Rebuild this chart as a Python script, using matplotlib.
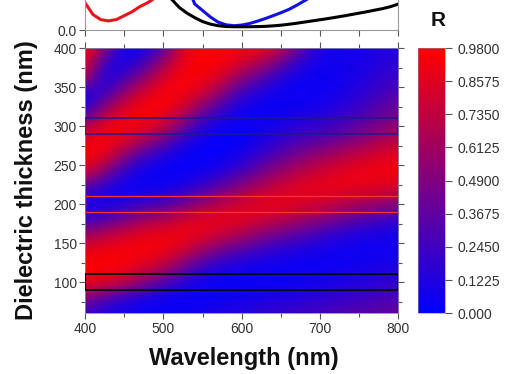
import numpy as np
import matplotlib
matplotlib.use("Agg")
import matplotlib.pyplot as plt
from matplotlib.colors import LinearSegmentedColormap
from matplotlib.patches import Rectangle
from matplotlib.ticker import MultipleLocator

plt.rcParams['font.family'] = ['Liberation Sans', 'DejaVu Sans']

# ---------------- data ----------------
# map grid: wavelength columns (nm) and thickness rows (nm)
wavelength_grid = [400, 425, 450, 475, 500, 525, 550, 575, 600,
                   625, 650, 675, 700, 725, 750, 775, 800]
thickness_grid = [60, 80, 100, 120, 140, 160, 180, 200, 220,
                  240, 260, 280, 300, 320, 340, 360, 380, 400]

# reflectance per wavelength column, listed from thickness 60 up to 400 nm
R_400 = [0.22, 0.50, 0.93, 0.97, 0.90, 0.60, 0.20, 0.10, 0.30, 0.80, 0.97, 0.90, 0.65, 0.15, 0.05, 0.70, 0.93, 0.97]
R_425 = [0.12, 0.32, 0.88, 0.97, 0.93, 0.72, 0.30, 0.07, 0.12, 0.50, 0.88, 0.97, 0.90, 0.60, 0.22, 0.04, 0.20, 0.55]
R_450 = [0.06, 0.17, 0.76, 0.94, 0.96, 0.82, 0.45, 0.12, 0.04, 0.15, 0.50, 0.85, 0.96, 0.88, 0.60, 0.28, 0.06, 0.05]
R_475 = [0.04, 0.09, 0.52, 0.85, 0.96, 0.90, 0.62, 0.22, 0.05, 0.04, 0.22, 0.62, 0.92, 0.97, 0.85, 0.55, 0.25, 0.07]
R_500 = [0.04, 0.05, 0.33, 0.72, 0.93, 0.93, 0.65, 0.28, 0.06, 0.02, 0.10, 0.40, 0.80, 0.95, 0.97, 0.85, 0.60, 0.30]
R_525 = [0.04, 0.03, 0.15, 0.45, 0.80, 0.94, 0.82, 0.42, 0.12, 0.02, 0.03, 0.15, 0.45, 0.78, 0.94, 0.97, 0.93, 0.85]
R_550 = [0.08, 0.03, 0.06, 0.22, 0.58, 0.88, 0.88, 0.58, 0.25, 0.06, 0.01, 0.04, 0.15, 0.45, 0.78, 0.94, 0.97, 0.96]
R_575 = [0.12, 0.04, 0.03, 0.12, 0.40, 0.75, 0.90, 0.72, 0.40, 0.14, 0.03, 0.01, 0.05, 0.20, 0.50, 0.80, 0.95, 0.97]
R_600 = [0.15, 0.06, 0.025, 0.08, 0.30, 0.65, 0.88, 0.82, 0.55, 0.28, 0.10, 0.03, 0.03, 0.06, 0.20, 0.50, 0.82, 0.96]
R_625 = [0.20, 0.08, 0.03, 0.05, 0.20, 0.50, 0.80, 0.90, 0.70, 0.45, 0.22, 0.09, 0.06, 0.03, 0.10, 0.32, 0.65, 0.92]
R_650 = [0.22, 0.10, 0.04, 0.04, 0.14, 0.40, 0.72, 0.90, 0.80, 0.60, 0.38, 0.20, 0.10, 0.04, 0.03, 0.12, 0.40, 0.75]
R_675 = [0.25, 0.13, 0.055, 0.03, 0.10, 0.30, 0.62, 0.85, 0.88, 0.72, 0.50, 0.30, 0.16, 0.07, 0.03, 0.05, 0.15, 0.38]
R_700 = [0.28, 0.16, 0.08, 0.04, 0.07, 0.22, 0.52, 0.80, 0.90, 0.80, 0.60, 0.36, 0.20, 0.10, 0.05, 0.04, 0.06, 0.11]
R_725 = [0.31, 0.19, 0.10, 0.05, 0.05, 0.15, 0.42, 0.72, 0.90, 0.87, 0.70, 0.44, 0.27, 0.15, 0.09, 0.06, 0.06, 0.08]
R_750 = [0.34, 0.22, 0.13, 0.07, 0.04, 0.10, 0.33, 0.65, 0.88, 0.92, 0.78, 0.54, 0.36, 0.24, 0.16, 0.11, 0.09, 0.08]
R_775 = [0.37, 0.25, 0.16, 0.09, 0.05, 0.08, 0.25, 0.58, 0.85, 0.93, 0.85, 0.66, 0.47, 0.34, 0.25, 0.18, 0.13, 0.11]
R_800 = [0.40, 0.29, 0.20, 0.11, 0.06, 0.08, 0.20, 0.50, 0.82, 0.94, 0.90, 0.74, 0.56, 0.42, 0.32, 0.24, 0.18, 0.15]

# spectra for the three highlighted thicknesses (top panel)
line_wavelength = list(range(400, 801, 10))
R_100nm = [0.93, 0.94, 0.93, 0.90, 0.85, 0.78, 0.70, 0.60, 0.50, 0.40,
           0.32, 0.24, 0.175, 0.13, 0.095, 0.065, 0.045, 0.033, 0.027, 0.025,
           0.025, 0.025, 0.026, 0.028, 0.032, 0.037, 0.044, 0.052, 0.061, 0.070,
           0.079, 0.088, 0.098, 0.108, 0.119, 0.130, 0.141, 0.153, 0.165, 0.180, 0.200]
R_200nm = [0.21, 0.12, 0.08, 0.07, 0.08, 0.11, 0.14, 0.18, 0.21, 0.25,
           0.29, 0.33, 0.37, 0.41, 0.45, 0.49, 0.53, 0.57, 0.60, 0.63,
           0.65, 0.67, 0.69, 0.70, 0.71, 0.72, 0.72, 0.72, 0.72, 0.71,
           0.70, 0.69, 0.68, 0.66, 0.65, 0.63, 0.61, 0.59, 0.57, 0.55, 0.53]
R_300nm = [0.70, 0.80, 0.88, 0.93, 0.95, 0.96, 0.96, 0.95, 0.92, 0.87,
           0.80, 0.70, 0.55, 0.35, 0.20, 0.15, 0.10, 0.06, 0.04, 0.033,
           0.038, 0.05, 0.068, 0.088, 0.11, 0.133, 0.158, 0.19, 0.225, 0.26,
           0.30, 0.33, 0.36, 0.39, 0.42, 0.45, 0.48, 0.50, 0.52, 0.54, 0.56]

cbar_ticks = [0.0, 0.1225, 0.2450, 0.3675, 0.4900, 0.6125, 0.7350, 0.8575, 0.9800]
cbar_labels = ['0.000', '0.1225', '0.2450', '0.3675', '0.4900', '0.6125', '0.7350', '0.8575', '0.9800']

# ---------------- figure ----------------
W_px, H_px = 516, 374
fig = plt.figure(figsize=(W_px / 100, H_px / 100), dpi=100)

def fx(px):
    return px / W_px

def fy(py):
    return 1 - py / H_px

map_left, map_right = 85, 398.5
map_top, map_bottom = 48, 313.3
tick_col = '#555555'
lab_col = '#333333'

cmap = LinearSegmentedColormap.from_list('br', [(0, 0, 1), (1, 0, 0)])

# ---- map ----
ax = fig.add_axes([fx(map_left), fy(map_bottom), fx(map_right - map_left),
                   (map_bottom - map_top) / H_px])
Z = np.column_stack([R_400, R_425, R_450, R_475, R_500, R_525, R_550, R_575, R_600,
                     R_625, R_650, R_675, R_700, R_725, R_750, R_775, R_800])
dx = (wavelength_grid[1] - wavelength_grid[0]) / 2
dy = (thickness_grid[1] - thickness_grid[0]) / 2
im = ax.imshow(Z, origin='lower', aspect='auto', cmap=cmap, vmin=0, vmax=0.98,
               interpolation='bicubic',
               extent=[wavelength_grid[0] - dx, wavelength_grid[-1] + dx,
                       thickness_grid[0] - dy, thickness_grid[-1] + dy])
ax.set_xlim(400, 800)
ax.set_ylim(60, 400)

# highlighted thickness boxes
for t0, col, lw in [(100, 'black', 1.3), (200, '#ff3030', 0.9), (300, '#1a1a90', 1.1)]:
    ax.add_patch(Rectangle((400, t0 - 10), 400, 20, fill=False, edgecolor=col,
                           linewidth=lw, zorder=3))

ax.xaxis.set_major_locator(MultipleLocator(100))
ax.xaxis.set_minor_locator(MultipleLocator(50))
ax.yaxis.set_major_locator(MultipleLocator(50))
ax.yaxis.set_minor_locator(MultipleLocator(25))
ax.tick_params(axis='both', which='both', direction='out', color=tick_col,
               labelcolor=lab_col, labelsize=10, width=0.8, top=True, right=True)
ax.tick_params(axis='both', which='major', length=4, pad=2)
ax.tick_params(axis='both', which='minor', length=3)
ax.set_yticks([100, 150, 200, 250, 300, 350, 400])
for s in ax.spines.values():
    s.set_color('#8888aa')
    s.set_linewidth(0.6)

fig.text(fx(27), fy(180), 'Dielectric thickness (nm)', rotation=90,
         ha='center', va='center', fontsize=17, fontweight='bold', color='#111111')
fig.text(fx(244), fy(365), 'Wavelength (nm)', ha='center', va='baseline',
         fontsize=17, fontweight='bold', color='#111111')

# ---- top spectra panel (extends above the figure edge) ----
top_px_per_unit = 130
ax_top = fig.add_axes([fx(map_left), fy(30), fx(map_right - map_left),
                       top_px_per_unit / H_px])
ax_top.plot(line_wavelength, R_200nm, color='#e8141c', lw=2.2)
ax_top.plot(line_wavelength, R_300nm, color='#1010e0', lw=2.2)
ax_top.plot(line_wavelength, R_100nm, color='black', lw=2.2)
ax_top.set_xlim(400, 800)
ax_top.set_ylim(0, 1)
ax_top.set_yticks([0.0])
ax_top.set_yticklabels(['0.0'])
ax_top.xaxis.set_major_locator(MultipleLocator(50))
ax_top.tick_params(axis='x', labelbottom=False, direction='out', length=4,
                   color=tick_col, width=0.8)
ax_top.tick_params(axis='y', direction='out', length=4, color=tick_col,
                   labelcolor=lab_col, labelsize=10, width=0.8, pad=2)
ax_top.spines['top'].set_visible(False)
for k in ['left', 'right', 'bottom']:
    ax_top.spines[k].set_color('#999999')
    ax_top.spines[k].set_linewidth(0.8)

# ---- colorbar ----
cax = fig.add_axes([fx(418), fy(map_bottom), fx(27), (map_bottom - map_top) / H_px])
cb = fig.colorbar(im, cax=cax)
cb.set_ticks(cbar_ticks)
cb.set_ticklabels(cbar_labels)
cb.outline.set_linewidth(0.4)
cb.outline.set_edgecolor('#8888aa')
cax.tick_params(direction='out', length=5, color=tick_col, labelcolor=lab_col,
                labelsize=10, width=0.8, pad=4)
fig.text(fx(438), fy(20), 'R', ha='center', va='center', fontsize=15,
         fontweight='bold', color='#111111')

fig.savefig('out.png', dpi=100)
